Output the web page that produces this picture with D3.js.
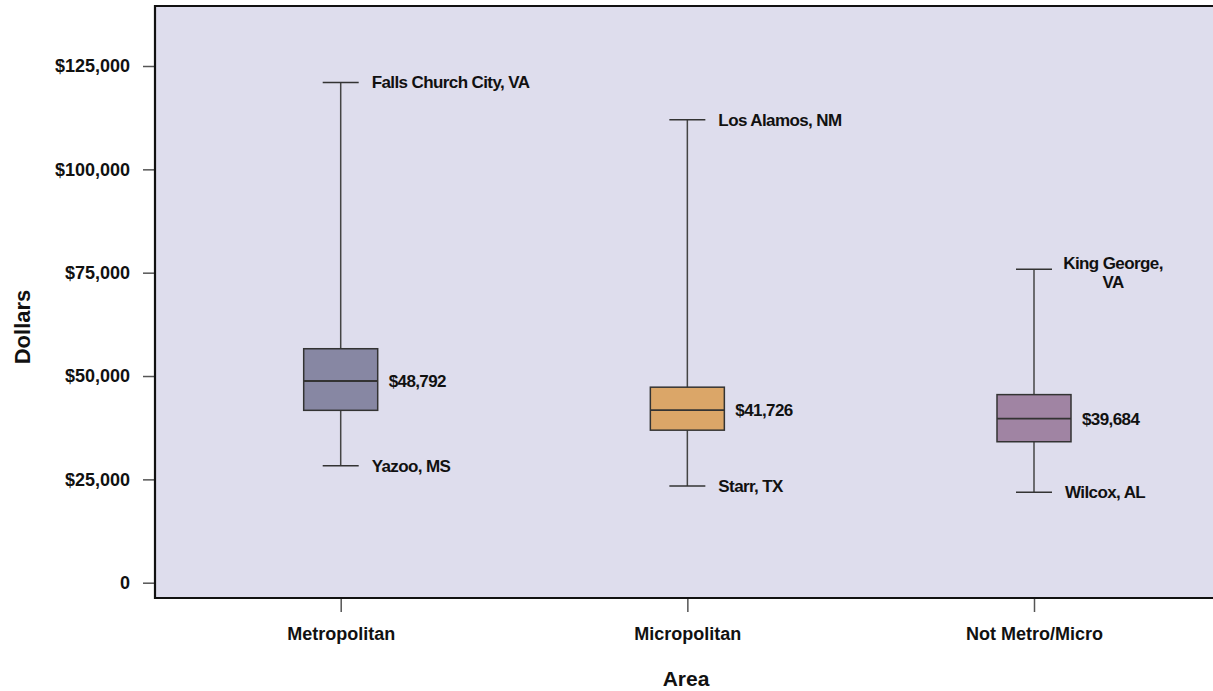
<!DOCTYPE html>
<html>
<head>
<meta charset="utf-8">
<script src="https://cdn.jsdelivr.net/npm/d3@7"></script>
<style>
  html, body { margin: 0; padding: 0; background: #ffffff; }
  svg { display: block; }
  text { font-family: "Liberation Sans", Arial, Helvetica, sans-serif; fill: #111; }
</style>
</head>
<body>
<svg id="chart" width="1213" height="691"></svg>
<script>
// ---- data ----
const categories = ["Metropolitan", "Micropolitan", "Not Metro/Micro"];
const lowValues = [28300, 23400, 21900];
const q1Values = [41700, 36900, 34100];
const medianValues = [48792, 41726, 39684];
const q3Values = [56600, 47300, 45500];
const highValues = [121000, 112000, 75800];
const lowLabels = ["Yazoo, MS", "Starr, TX", "Wilcox, AL"];
const highLabels = [["Falls Church City, VA"], ["Los Alamos, NM"], ["King George,", "VA"]];
const boxColors = ["#8787a3", "#dba668", "#a084a3"];
const yTicks = [0, 25000, 50000, 75000, 100000, 125000];
const xTitle = "Area";
const yTitle = "Dollars";

// ---- layout ----
const svg = d3.select("#chart");
const frame = { left: 155, top: 6, right: 1215, bottom: 598 };

const y = d3.scaleLinear().domain([0, 125000]).range([582.7, 66]);
const x = d3.scalePoint().domain(categories).range([340.7, 1034]);

const boxW = 74, capW = 36;

// plot background
svg.append("rect")
  .attr("x", frame.left).attr("y", frame.top)
  .attr("width", frame.right - frame.left).attr("height", frame.bottom - frame.top)
  .attr("fill", "#dedded");

// y axis
const fmt = d3.format(",");
const yAxis = d3.axisLeft(y).tickValues(yTicks).tickSize(12).tickPadding(13)
  .tickFormat(d => d === 0 ? "0" : "$" + fmt(d));
const gy = svg.append("g").attr("transform", `translate(${frame.left},0)`).call(yAxis);
gy.select(".domain").remove();
gy.selectAll(".tick line").attr("stroke", "#555").attr("stroke-width", 1.5);
gy.selectAll(".tick text")
  .style("font-family", '"Liberation Sans", Arial, sans-serif')
  .style("font-size", "18px").style("font-weight", "bold").attr("fill", "#111");

// x axis
const xAxis = d3.axisBottom(x).tickSize(14).tickPadding(15);
const gx = svg.append("g").attr("transform", `translate(0,${frame.bottom})`).call(xAxis);
gx.select(".domain").remove();
gx.selectAll(".tick line").attr("stroke", "#555").attr("stroke-width", 1.5);
gx.selectAll(".tick text")
  .style("font-family", '"Liberation Sans", Arial, sans-serif')
  .style("font-size", "18px").style("font-weight", "bold").attr("fill", "#111");

// frame lines (top, left, bottom)
svg.append("path")
  .attr("d", `M${frame.right},${frame.top}H${frame.left}V${frame.bottom}H${frame.right}`)
  .attr("fill", "none").attr("stroke", "#111").attr("stroke-width", 2.2);

// boxes
const data = categories.map((c, i) => ({
  c, lo: lowValues[i], q1: q1Values[i], med: medianValues[i], q3: q3Values[i], hi: highValues[i],
  color: boxColors[i], lowLabel: lowLabels[i], highLabel: highLabels[i]
}));

const g = svg.append("g");
const items = g.selectAll("g.box").data(data).join("g").attr("class", "box");

// whisker vertical
items.append("line")
  .attr("x1", d => x(d.c)).attr("x2", d => x(d.c))
  .attr("y1", d => y(d.hi)).attr("y2", d => y(d.lo))
  .attr("stroke", "#444").attr("stroke-width", 1.5);
// caps
items.append("line")
  .attr("x1", d => x(d.c) - capW / 2).attr("x2", d => x(d.c) + capW / 2)
  .attr("y1", d => y(d.hi)).attr("y2", d => y(d.hi))
  .attr("stroke", "#333").attr("stroke-width", 1.5);
items.append("line")
  .attr("x1", d => x(d.c) - capW / 2).attr("x2", d => x(d.c) + capW / 2)
  .attr("y1", d => y(d.lo)).attr("y2", d => y(d.lo))
  .attr("stroke", "#333").attr("stroke-width", 1.5);
// box
items.append("rect")
  .attr("x", d => x(d.c) - boxW / 2).attr("width", boxW)
  .attr("y", d => y(d.q3)).attr("height", d => y(d.q1) - y(d.q3))
  .attr("fill", d => d.color).attr("stroke", "#333").attr("stroke-width", 1.5);
// median
items.append("line")
  .attr("x1", d => x(d.c) - boxW / 2).attr("x2", d => x(d.c) + boxW / 2)
  .attr("y1", d => y(d.med)).attr("y2", d => y(d.med))
  .attr("stroke", "#333").attr("stroke-width", 1.8);

const labelStyle = sel => sel
  .style("font-size", "17px").style("font-weight", "bold").style("letter-spacing", "-0.6px")
  .attr("fill", "#111");

// median labels
items.append("text")
  .attr("x", d => x(d.c) + boxW / 2 + 11)
  .attr("y", d => y(d.med)).attr("dy", "0.35em")
  .text(d => "$" + fmt(d.med)).call(labelStyle);

// low labels
items.append("text")
  .attr("x", d => x(d.c) + 31)
  .attr("y", d => y(d.lo)).attr("dy", "0.35em")
  .text(d => d.lowLabel).call(labelStyle);

// high labels
items.each(function(d) {
  const sel = d3.select(this);
  if (d.highLabel.length === 1) {
    sel.append("text")
      .attr("x", x(d.c) + 31).attr("y", y(d.hi)).attr("dy", "0.35em")
      .text(d.highLabel[0]).call(labelStyle);
  } else {
    const t = sel.append("text")
      .attr("x", x(d.c) + 79).attr("y", y(d.hi) - 6)
      .attr("text-anchor", "middle").call(labelStyle);
    d.highLabel.forEach((ln, k) => {
      t.append("tspan").attr("x", x(d.c) + 79).attr("dy", k === 0 ? "0.35em" : "1.1em").text(ln);
    });
  }
});

// axis titles
svg.append("text")
  .attr("x", 686).attr("y", 686)
  .attr("text-anchor", "middle")
  .style("font-size", "21px").style("font-weight", "bold")
  .text(xTitle);
svg.append("text")
  .attr("transform", "translate(30,327) rotate(-90)")
  .attr("text-anchor", "middle")
  .style("font-size", "22px").style("font-weight", "bold")
  .text(yTitle);
</script>
</body>
</html>
